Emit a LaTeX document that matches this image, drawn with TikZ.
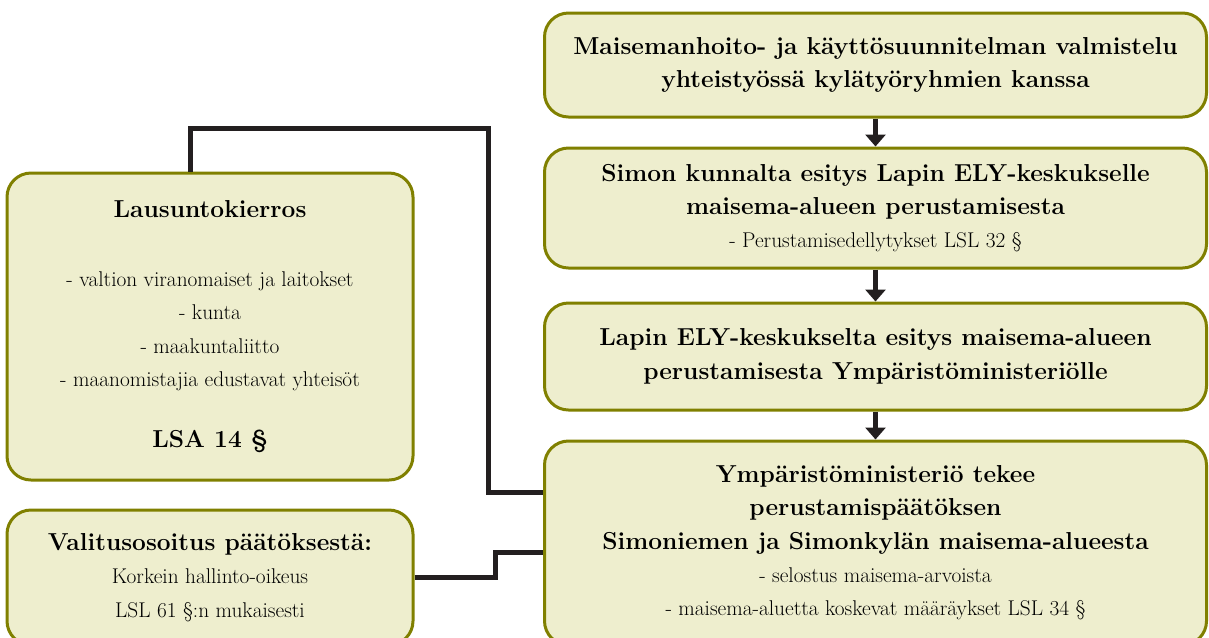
\documentclass[tikz,border=0pt]{standalone}
\usepackage{tikz}
\usetikzlibrary{arrows.meta}

\definecolor{boxfill}{RGB}{238,238,206}
\definecolor{boxline}{RGB}{128,128,0}
\definecolor{linkdark}{RGB}{35,31,32}
\newcommand{\boxhead}{\fontsize{18.4}{25}\selectfont\bfseries}
\newcommand{\boxtext}{\fontsize{16}{25}\selectfont\mdseries}

\tikzset{
  stagebox/.style={draw=boxline, fill=boxfill, line width=2.25pt, rounded corners=18pt,
    align=center, inner sep=0pt, minimum width=496.5pt, font=\boxhead},
  sidebox/.style={stagebox, minimum width=304.5pt},
  link/.style={draw=linkdark, line width=3.75pt},
  flow/.style={draw=linkdark, line width=3.75pt, -{Triangle[width=15pt,length=9pt]}}
}

\begin{document}
\begin{tikzpicture}[x=0.75pt,y=0.75pt,yscale=-1]
\useasboundingbox (0,0) rectangle (1209,637);

% right column
\node[stagebox, minimum height=78pt] (plan) at (875.5,65)
  {Maisemanhoito- ja käyttösuunnitelman valmistelu\\ yhteistyössä kylätyöryhmien kanssa};
\node[stagebox, minimum height=90pt] (kunta) at (875.5,208)
  {Simon kunnalta esitys Lapin ELY-keskukselle\\ maisema-alueen perustamisesta\\
   {\boxtext - Perustamisedellytykset LSL 32 \S}};
\node[stagebox, minimum height=80.25pt] (ely) at (875.5,356.5)
  {Lapin ELY-keskukselta esitys maisema-alueen\\ perustamisesta Ympäristöministeriölle};
\node[stagebox, minimum height=153pt] (ym) at (875.5,543)
  {Ympäristöministeriö tekee\\ perustamispäätöksen\\ Simoniemen ja Simonkylän maisema-alueesta\\
   {\boxtext - selostus maisema-arvoista}\\
   {\boxtext - maisema-aluetta koskevat määräykset LSL 34 \S}};

% left column
\node[sidebox, minimum height=230.25pt] (lausunto) at (210,326.5)
  {Lausuntokierros\\[27pt]
   {\boxtext - valtion viranomaiset ja laitokset}\\
   {\boxtext - kunta}\\
   {\boxtext - maakuntaliitto}\\
   {\boxtext - maanomistajia edustavat yhteisöt}\\[21pt]
   LSA 14 \S};
\node[sidebox, minimum height=101.25pt] (valitus) at (210,577.5)
  {Valitusosoitus päätöksestä:\\
   {\boxtext Korkein hallinto-oikeus}\\
   {\boxtext LSL 61 \S:n mukaisesti}};

% arrows
\draw[flow] (plan) -- (kunta);
\draw[flow] (kunta) -- (ely);
\draw[flow] (ely) -- (ym);

% connectors
\coordinate (turn1) at (488,128);
\coordinate (turn2) at (495,552);
\draw[link] ([xshift=-15pt]lausunto.north) |- (turn1) |- ([yshift=-38.25pt]ym.west);
\draw[link] (valitus.east) -| (turn2) -- (turn2 -| ym.west);

\end{tikzpicture}
\end{document}
